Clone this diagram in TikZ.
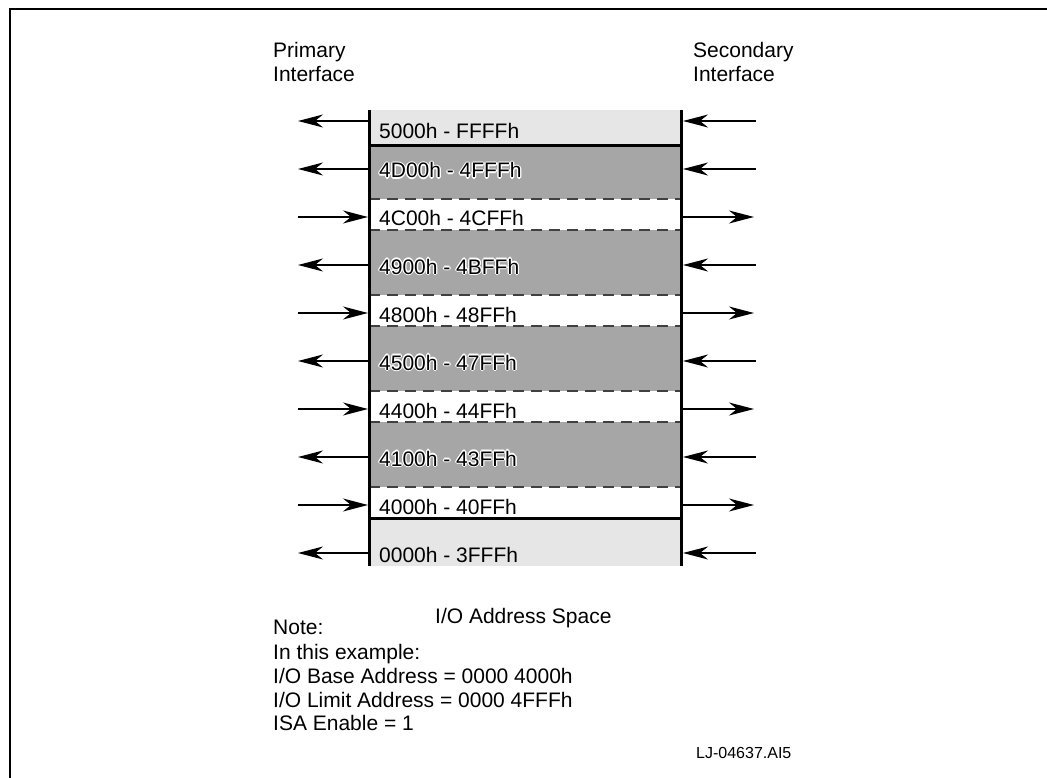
\documentclass[tikz,border=0pt]{standalone}
\usepackage{fontspec}
\setmainfont{Liberation Sans}
\usetikzlibrary{arrows.meta}
\definecolor{lightrow}{HTML}{E6E6E6}
\definecolor{darkrow}{HTML}{A6A6A6}
\definecolor{dashcol}{HTML}{404040}
\newcommand\halotext[4]{%
  \foreach \hx/\hy in {1.3/0,-1.3/0,0/1.3,0/-1.3,0.9/0.9,-0.9/0.9,0.9/-0.9,-0.9/-0.9}{%
    \node[lbl, text=white, xshift=\hx pt, yshift=\hy pt] at (#2,#3) {#4};}
  \node[lbl] (#1) at (#2,#3) {#4};
}
\begin{document}
\begin{tikzpicture}[x=1pt,y=-1pt,
  lbl/.style={anchor=base west, inner sep=0pt, font=\fontsize{21}{24}\selectfont},
  smalllbl/.style={anchor=base west, inner sep=0pt, font=\fontsize{16}{19}\selectfont},
  conn/.style={line width=1.5pt, -{Stealth[length=25pt,width=13pt,inset=8pt]}},
  sepline/.style={line width=3pt},
  dsep/.style={line width=1.5pt, dashcol, dash pattern=on 11pt off 7pt},
  rowbox/.style={draw=none, minimum width=312pt, inner sep=0pt, outer sep=0pt},
]
\useasboundingbox (0,0) rectangle (1047,778);
% frame
\draw[line width=2.5pt] (10,778) -- (10,9) -- (1047,9);

% rows (fills)
\node[rowbox, fill=lightrow, minimum height=36pt] (r5000) at (525,128) {};
\node[rowbox, fill=darkrow,  minimum height=53pt] (r4D00) at (525,172.5) {};
\node[rowbox, fill=white,    minimum height=31pt] (r4C00) at (525,214.5) {};
\node[rowbox, fill=darkrow,  minimum height=65pt] (r4900) at (525,262.5) {};
\node[rowbox, fill=white,    minimum height=31pt] (r4800) at (525,310.5) {};
\node[rowbox, fill=darkrow,  minimum height=65pt] (r4500) at (525,358.5) {};
\node[rowbox, fill=white,    minimum height=31pt] (r4400) at (525,406.5) {};
\node[rowbox, fill=darkrow,  minimum height=65pt] (r4100) at (525,454.5) {};
\node[rowbox, fill=white,    minimum height=31pt] (r4000) at (525,502.5) {};
\node[rowbox, fill=lightrow, minimum height=48pt] (r0000) at (525,542) {};

% separators
\foreach \y in {199,230,295,326,391,422,487}
  \draw[dsep] (369,\y) -- (681,\y);
\draw[sepline] (r5000.south west) -- (r5000.south east);
\draw[sepline] (r4000.south west) -- (r4000.south east);
\draw[sepline] (369,110) -- (369,566);
\draw[sepline] (681,110) -- (681,566);

% row labels
\node[lbl] (t5000) at (379,139) {5000h - FFFFh};
\halotext{t4D00}{379}{178}{4D00h - 4FFFh}
\node[lbl] (t4C00) at (379,226) {4C00h - 4CFFh};
\halotext{t4900}{379}{274}{4900h - 4BFFh}
\node[lbl] (t4800) at (379,322) {4800h - 48FFh};
\halotext{t4500}{379}{370}{4500h - 47FFh}
\node[lbl] (t4400) at (379,418) {4400h - 44FFh};
\halotext{t4100}{379}{466}{4100h - 43FFh}
\node[lbl] (t4000) at (379,514) {4000h - 40FFh};
\node[lbl] (t0000) at (379,562) {0000h - 3FFFh};

% arrows: secondary -> primary
\foreach \y [count=\i] in {121,169,265,361,457,553} {
  \coordinate (pl\i) at (298,\y);
  \coordinate (bl\i) at (369,\y);
  \coordinate (br\i) at (683,\y);
  \coordinate (sr\i) at (756,\y);
  \draw[conn] (bl\i) -- (pl\i);
  \draw[conn] (sr\i) -- (br\i);
}
% arrows: primary -> secondary
\foreach \y [count=\i] in {217,313,409,505} {
  \coordinate (pin\i) at (298,\y);
  \coordinate (bin\i) at (368,\y);
  \coordinate (bout\i) at (682,\y);
  \coordinate (sout\i) at (754,\y);
  \draw[conn] (pin\i) -- (bin\i);
  \draw[conn] (bout\i) -- (sout\i);
}

% interface labels
\node[lbl] (prim1) at (273,58) {Primary};
\node[lbl] (prim2) at (273,82) {Interface};
\node[lbl] (sec1) at (693,58) {Secondary};
\node[lbl] (sec2) at (693,82) {Interface};

% bottom texts
\node[lbl] (space) at (435,623) {I/O Address Space};
\node[lbl] (note1) at (273,634) {Note:};
\node[lbl] (note2) at (273,659) {In this example:};
\node[lbl] (note3) at (273,683) {I/O Base Address = 0000 4000h};
\node[lbl] (note4) at (273,707) {I/O Limit Address = 0000 4FFFh};
\node[lbl] (note5) at (273,730) {ISA Enable = 1};
\node[smalllbl] (figid) at (696,758) {LJ-04637.AI5};
\end{tikzpicture}
\end{document}
